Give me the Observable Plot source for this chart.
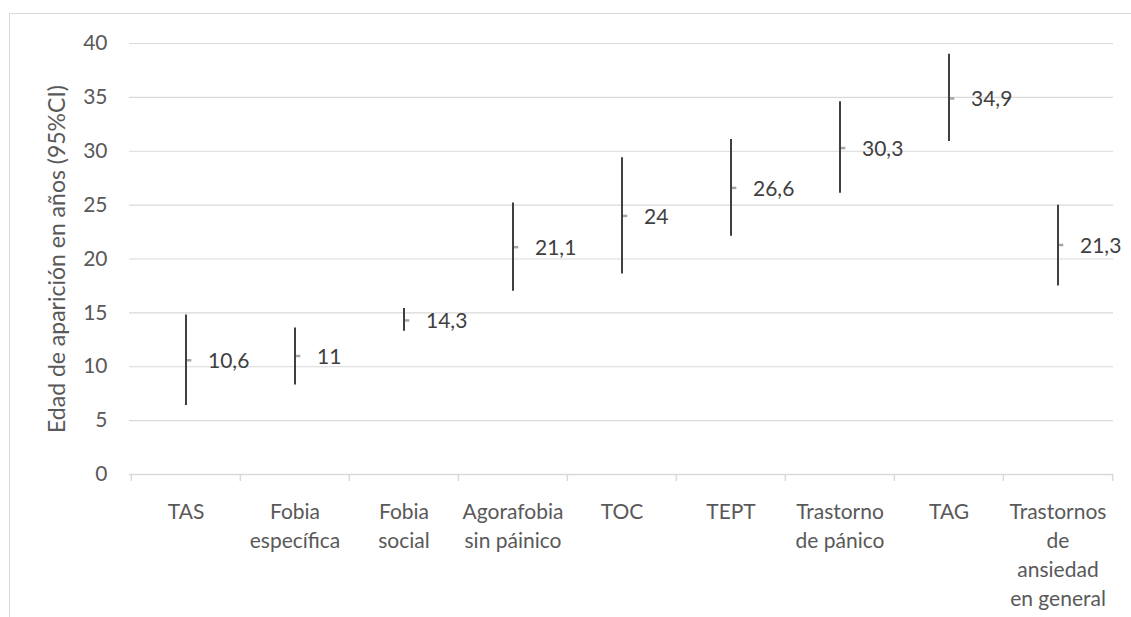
<!DOCTYPE html>
<html>
<head>
<meta charset="utf-8">
<script src="https://cdn.jsdelivr.net/npm/d3@7"></script>
<script src="https://cdn.jsdelivr.net/npm/@observablehq/plot@0.6"></script>
<style>
  html, body { margin: 0; padding: 0; background: #ffffff; }
  #wrap { position: relative; width: 1131px; height: 617px; overflow: hidden; }
  #border { position: absolute; left: 9px; top: 13px; width: 1200px; height: 700px; border: 1px solid #d9d9d9; box-sizing: border-box; }
  #chart { position: absolute; left: 0; top: 0; }
</style>
</head>
<body>
<div id="wrap"><div id="border"></div><div id="chart"></div></div>
<script>
const categories = ["TAS", "Fobia específica", "Fobia social", "Agorafobia sin páinico", "TOC", "TEPT", "Trastorno de pánico", "TAG", "Trastornos de ansiedad en general"];
const tickLabels = ["TAS", "Fobia\nespecífica", "Fobia\nsocial", "Agorafobia\nsin páinico", "TOC", "TEPT", "Trastorno\nde pánico", "TAG", "Trastornos\nde\nansiedad\nen general"];
const means = [10.6, 11, 14.3, 21.1, 24, 26.6, 30.3, 34.9, 21.3];
const lower = [6.4, 8.3, 13.3, 17.0, 18.6, 22.1, 26.1, 30.9, 17.5];
const upper = [14.8, 13.6, 15.4, 25.2, 29.4, 31.1, 34.6, 39.0, 25.0];
const yTicks = [0, 5, 10, 15, 20, 25, 30, 35, 40];
const yTitle = "Edad de aparición en años (95%CI)";

const data = categories.map((c, i) => ({cat: c, mean: means[i], lo: lower[i], hi: upper[i]}));

const W = 1131, H = 617, ML = 129, MR = 18, MT = 43, MB = 143;
const bw = (W - ML - MR) / categories.length;
const fmt = v => String(v).replace(".", ",");

const chart = Plot.plot({
  width: W,
  height: H,
  marginLeft: ML,
  marginRight: MR,
  marginTop: MT,
  marginBottom: MB,
  style: {fontFamily: "Lato, sans-serif", fontSize: "21px", background: "transparent"},
  x: {type: "band", domain: categories, padding: 0},
  y: {domain: [0, 40]},
  marks: [
    Plot.gridY(yTicks.filter(t => t > 0), {stroke: "#d9d9d9", strokeOpacity: 1, strokeWidth: 1.2}),
    Plot.axisY({ticks: yTicks, tickSize: 0, tickPadding: 22, fill: "#595959", label: null, fontSize: 21}),
    Plot.axisX({tickSize: 0, tickPadding: 24, tickFormat: d => tickLabels[categories.indexOf(d)], lineHeight: 1.38, fill: "#595959", label: null, fontSize: 21}),
    Plot.ruleY([0], {stroke: "#d9d9d9", strokeWidth: 1.5}),
    Plot.ruleX(categories, {x: d => d, y1: 0, y2: -0.65, dx: -bw / 2, stroke: "#d9d9d9", strokeWidth: 1.5}),
    Plot.ruleX(categories.slice(-1), {x: d => d, y1: 0, y2: -0.65, dx: bw / 2, stroke: "#d9d9d9", strokeWidth: 1.5}),
    Plot.tickY(data, {x: "cat", y: "mean", stroke: "#a6a6a6", strokeWidth: 2.5, insetLeft: (bw - 6) / 2, insetRight: (bw - 6) / 2, dx: 3}),
    Plot.ruleX(data, {x: "cat", y1: "lo", y2: "hi", stroke: "#404040", strokeWidth: 2}),
    Plot.text(data, {x: "cat", y: "mean", text: d => fmt(d.mean), textAnchor: "start", lineAnchor: "middle", dx: 22, dy: 1, fill: "#404040", fontSize: 21}),
    Plot.text([yTitle], {text: d => d, frameAnchor: "left", rotate: -90, dx: -72, textAnchor: "middle", lineAnchor: "middle", fill: "#595959", fontSize: 23})
  ]
});
document.getElementById("chart").appendChild(chart);
</script>
</body>
</html>
